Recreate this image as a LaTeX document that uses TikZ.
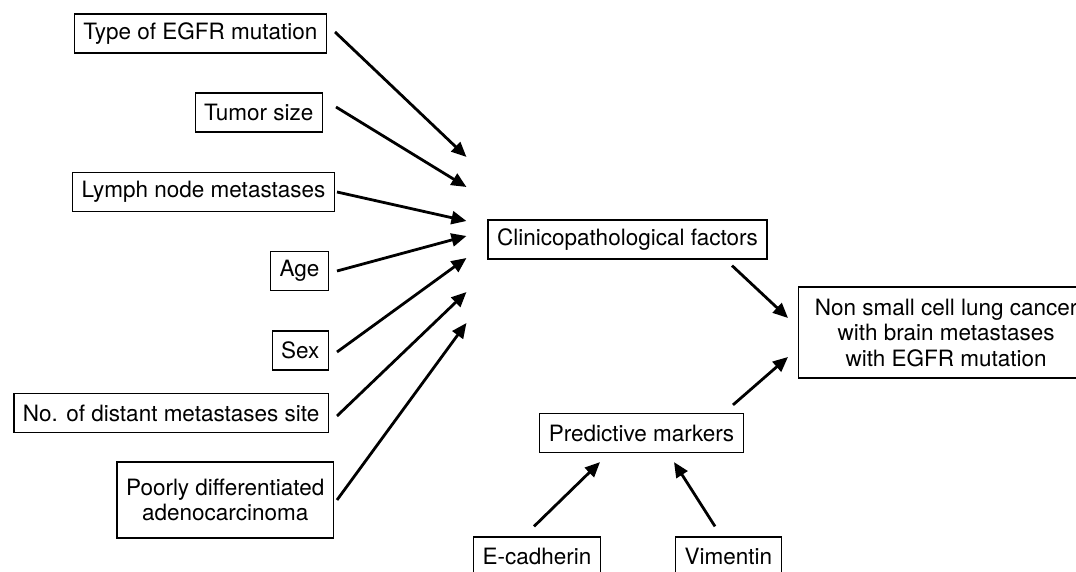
\documentclass[tikz,border=0pt]{standalone}
\usepackage{fontspec}
\setmainfont{TeX Gyre Heros}
\usepackage{tikz}
\usetikzlibrary{arrows.meta,positioning,calc}
\tikzset{
    factor/.style={
        rectangle,
        draw=black,
        line width=1.2pt,
        inner xsep=9pt,
        inner ysep=2pt,
        minimum height=39pt,
        font=\fontsize{22.5}{25.5}\selectfont,
        align=center,
    },
    every edge/.style={
        draw,
        -{Triangle[length=15pt,width=13pt]},
        line width=2.8pt,
    },
}
\begin{document}
\begin{tikzpicture}[x=1pt,y=-1pt]
    \useasboundingbox (0,0) rectangle (1076,572);
    \clip (0,0) rectangle (1076,572);

    \node [factor, anchor=east] (type) at (327,33.5) {Type of EGFR mutation};
    \node [factor, anchor=east] (tumor) at (323,112.5) {Tumor size};
    \node [factor, anchor=east] (lymph) at (335,192) {Lymph node metastases};
    \node [factor, anchor=east] (age) at (329,271) {Age};
    \node [factor, anchor=east] (sex) at (329,350.5) {Sex};
    \node [factor, anchor=east] (distant) at (329,413) {No. of distant metastases site};
    \node [factor, anchor=east, minimum height=76pt] (poorly) at (334,500)
        {Poorly differentiated\\adenocarcinoma};

    \node [factor] (clin) at (627.5,239.5) {Clinicopathological factors};
    \node [factor] (pred) at (641.5,433) {Predictive markers};
    \node [factor, anchor=west, minimum width=295pt, minimum height=91pt] (nsclc) at (798,332.5)
        {Non small cell lung cancer\\with brain metastases\\with EGFR mutation};

    \node [factor, anchor=west] (ecad) at (473,556.5) {E-cadherin};
    \node [factor, anchor=west] (vim) at (675,556.5) {Vimentin};

    \foreach \src/\sx/\sy/\dy in {type/8/-1.5/-82.5, tumor/13/-5.5/-52.5, lymph/2/0/-18.5,
        age/8/0/-3.5, sex/8/1.5/18.5, distant/8/3/52.5, poorly/3/0/83.5}
        \draw ([shift={(\sx,\sy)}]\src.east) edge ([shift={(-21,\dy)}]clin.west);

    \draw ([shift={(104.5,6)}]clin.south) edge ([shift={(-10,-14.5)}]nsclc.west);
    \draw ([shift={(91.5,-8)}]pred.north) edge ([shift={(-10,24.5)}]nsclc.west);
    \draw ([shift={(-3,-10)}]ecad.north) edge ([shift={(-41.5,9)}]pred.south);
    \draw ([shift={(40,-10)}]vim.north west) edge ([shift={(32.5,9)}]pred.south);
\end{tikzpicture}
\end{document}
